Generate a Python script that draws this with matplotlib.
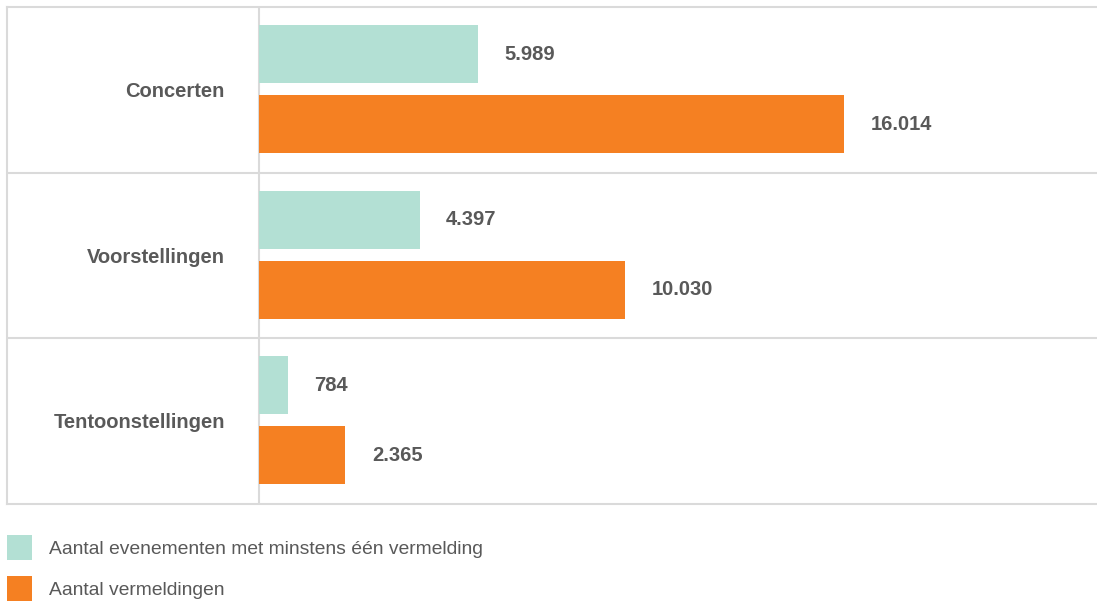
import matplotlib
matplotlib.use("Agg")
import matplotlib.pyplot as plt
import matplotlib.transforms as mtransforms
from matplotlib.patches import Patch

categories = ["Concerten", "Voorstellingen", "Tentoonstellingen"]
events = [5989, 4397, 784]
mentions = [16014, 10030, 2365]
series_labels = ["Aantal evenementen met minstens één vermelding", "Aantal vermeldingen"]
colors = ["#b3e0d4", "#f58022"]
text_color = "#595959"
grid_color = "#dadada"

def fmt(v):
    return f"{v:,}".replace(",", ".")

W, H = 1097, 601
fig = plt.figure(figsize=(W / 100, H / 100), dpi=100)
ax = fig.add_axes([7 / W, 1 - 504 / H, 1090 / W, 497 / H])

fam = ['Liberation Sans', 'DejaVu Sans']
plt.rcParams['font.family'] = fam

scale = 585 / 16014  # px per unit
ax.set_xlim(-252 / scale, 838 / scale)
ax.set_ylim(len(categories), 0)

h = 0.35
trans = mtransforms.blended_transform_factory(ax.transAxes, ax.transData)
for i, cat in enumerate(categories):
    y1 = i + 0.284
    y2 = i + 0.707
    ax.barh(y1, events[i], height=h, color=colors[0], left=0)
    ax.barh(y2, mentions[i], height=h, color=colors[1], left=0)
    ax.annotate(fmt(events[i]), (events[i], y1), xytext=(19, 0), textcoords="offset points",
                ha="left", va="center", fontsize=14.5, fontweight="bold", color=text_color,
                family=fam)
    ax.annotate(fmt(mentions[i]), (mentions[i], y2), xytext=(19, 0), textcoords="offset points",
                ha="left", va="center", fontsize=14.5, fontweight="bold", color=text_color,
                family=fam)
    ax.text((225 - 7) / 1090, i + 0.51, cat, transform=trans, ha="right", va="center",
            fontsize=14.5, fontweight="bold", color=text_color, family=fam)

for b in range(1, len(categories)):
    ax.axhline(b, color=grid_color, lw=1.5, zorder=0)
ax.axvline(0, color=grid_color, lw=1.5, zorder=0)

for s in ["top", "bottom", "left"]:
    ax.spines[s].set_color(grid_color)
    ax.spines[s].set_linewidth(1.5)
ax.spines["right"].set_visible(False)
ax.set_xticks([])
ax.set_yticks([])

handles = [Patch(facecolor=c, edgecolor="none") for c in colors]
leg = fig.legend(handles, series_labels, loc="upper left",
                 bbox_to_anchor=(7 / W, 1 - 535 / H), frameon=False,
                 borderpad=0, borderaxespad=0, handlelength=1.28, handleheight=1.63,
                 handletextpad=0.89, labelspacing=0.84,
                 prop={"family": fam, "size": 13.9})
for t in leg.get_texts():
    t.set_color(text_color)

fig.savefig("out.png", dpi=100)
